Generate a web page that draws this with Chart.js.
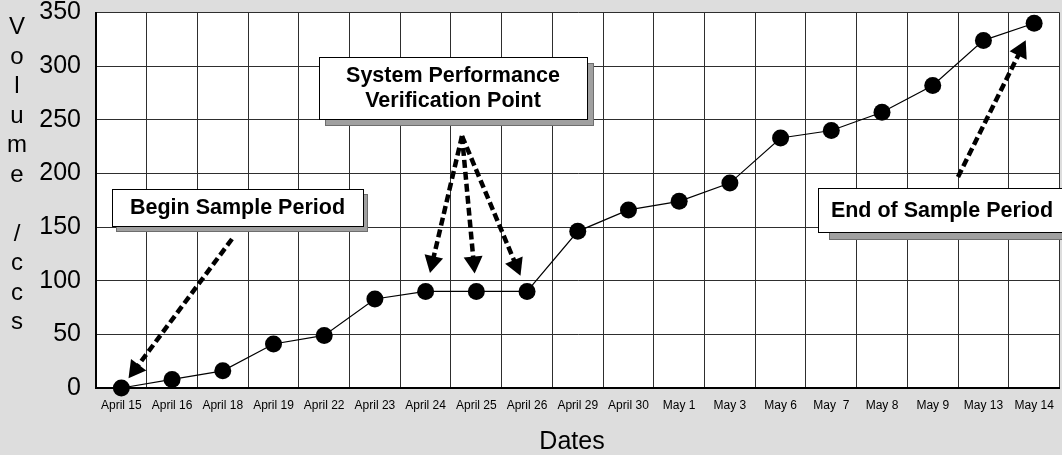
<!DOCTYPE html>
<html>
<head>
<meta charset="utf-8">
<script src="https://cdn.jsdelivr.net/npm/chart.js@4/dist/chart.umd.min.js"></script>
<style>
  html, body { margin: 0; padding: 0; overflow: hidden; background: #dddddd; }
  #wrap { width: 1068px; height: 455px; }
</style>
</head>
<body>
<div id="wrap"><canvas id="volChart"></canvas></div>
<script>
// Data
const dates = ['April 15', 'April 16', 'April 18', 'April 19', 'April 22', 'April 23', 'April 24',
    'April 25', 'April 26', 'April 29', 'April 30', 'May 1', 'May 3', 'May 6', 'May  7',
    'May 8', 'May 9', 'May 13', 'May 14'];
const volumes = [0, 8, 16, 41, 49, 83, 90, 90, 90, 146, 166, 174, 191, 233, 240, 257, 282, 324, 340];
const yTicks = [0, 50, 100, 150, 200, 250, 300, 350];
const yTitleLines = ['V', 'o', 'l', 'u', 'm', 'e', '', '/', 'c', 'c', 's'];
const xTitle = 'Dates';

// Call-out boxes and the points their arrows aim at
const callouts = [
    { lines: ['Begin Sample Period'], box: [112, 189, 363, 226], shadow: [4, 5],
      arrows: [{ from: [232, 239], to: 0, gap: 12 }] },
    { lines: ['System Performance', 'Verification Point'], box: [319, 57, 587, 119], shadow: [6, 6],
      arrows: [{ from: [462, 136], to: 6, gap: 19 }, { from: [462, 136], to: 7, gap: 18 },
               { from: [462, 136], to: 8, gap: 17 }] },
    { lines: ['End of Sample Period'], box: [818, 188, 1066, 232], shadow: [11, 7],
      arrows: [{ from: [958, 177], to: 18, gap: 19 }] }
];

const FONT = 'Arial, "Liberation Sans", sans-serif';

function drawArrow(ctx, x0, y0, x1, y1) {
    const ang = Math.atan2(y1 - y0, x1 - x0);
    const headLen = 17, headHalf = 9.5;
    const bx = x1 - Math.cos(ang) * headLen, by = y1 - Math.sin(ang) * headLen;
    ctx.save();
    ctx.strokeStyle = '#000';
    ctx.lineWidth = 4.5;
    ctx.setLineDash([8, 4]);
    ctx.beginPath();
    ctx.moveTo(x0, y0);
    ctx.lineTo(bx + Math.cos(ang) * 2, by + Math.sin(ang) * 2);
    ctx.stroke();
    ctx.setLineDash([]);
    ctx.fillStyle = '#000';
    ctx.beginPath();
    ctx.moveTo(x1, y1);
    ctx.lineTo(bx + Math.sin(ang) * headHalf, by - Math.cos(ang) * headHalf);
    ctx.lineTo(bx - Math.sin(ang) * headHalf, by + Math.cos(ang) * headHalf);
    ctx.closePath();
    ctx.fill();
    ctx.restore();
}

const backdrop = {
    id: 'backdrop',
    beforeDraw(chart) {
        const { ctx, chartArea: a } = chart;
        ctx.save();
        ctx.fillStyle = '#dddddd';
        ctx.fillRect(0, 0, chart.width, chart.height);
        ctx.fillStyle = '#ffffff';
        ctx.fillRect(a.left, a.top, a.right - a.left, a.bottom - a.top);
        ctx.restore();
    }
};

const extras = {
    id: 'extras',
    afterDraw(chart) {
        const ctx = chart.ctx;
        const pts = chart.getDatasetMeta(0).data;
        ctx.save();

        // axis titles
        ctx.fillStyle = '#000';
        ctx.font = '24px ' + FONT;
        ctx.textAlign = 'center';
        ctx.textBaseline = 'alphabetic';
        yTitleLines.forEach(function(ch, i) {
            ctx.fillText(ch, 17, 34 + i * 29.5);
        });
        ctx.font = '25px ' + FONT;
        ctx.textBaseline = 'middle';
        ctx.fillText(xTitle, 572, 442);

        // call-outs
        callouts.forEach(function(c) {
            const [x0, y0, x1, y1] = c.box;
            ctx.fillStyle = '#a0a0a0';
            ctx.strokeStyle = '#6e6e6e';
            ctx.lineWidth = 1;
            ctx.fillRect(x0 + c.shadow[0], y0 + c.shadow[1], x1 - x0, y1 - y0);
            ctx.strokeRect(x0 + c.shadow[0] + 0.5, y0 + c.shadow[1] + 0.5, x1 - x0, y1 - y0);
            ctx.fillStyle = '#fff';
            ctx.strokeStyle = '#000';
            ctx.fillRect(x0, y0, x1 - x0, y1 - y0);
            ctx.strokeRect(x0 + 0.5, y0 + 0.5, x1 - x0, y1 - y0);
            ctx.fillStyle = '#000';
            ctx.font = 'bold 21.5px ' + FONT;
            ctx.textAlign = 'center';
            ctx.textBaseline = 'middle';
            const cx = (x0 + x1) / 2, cy = (y0 + y1) / 2 + 1;
            const lh = 25;
            c.lines.forEach(function(t, i) {
                ctx.fillText(t, cx, cy + (i - (c.lines.length - 1) / 2) * lh);
            });
            c.arrows.forEach(function(ar) {
                const p = pts[ar.to];
                const dx = p.x - ar.from[0], dy = p.y - ar.from[1];
                const len = Math.sqrt(dx * dx + dy * dy);
                const tx = p.x - dx / len * ar.gap, ty = p.y - dy / len * ar.gap;
                drawArrow(ctx, ar.from[0], ar.from[1], tx, ty);
            });
        });
        ctx.restore();
    }
};

var ctxVol = document.getElementById('volChart').getContext('2d');
var volChart = new Chart(ctxVol, {
    type: 'line',
    data: {
        labels: dates,
        datasets: [{
            data: volumes,
            borderColor: '#000',
            borderWidth: 1.2,
            pointRadius: 8.5,
            pointBackgroundColor: '#000',
            pointBorderWidth: 0,
            tension: 0,
            clip: false
        }]
    },
    options: {
        responsive: true,
        maintainAspectRatio: false,
        animation: false,
        layout: { padding: { top: 12.5, right: 3, left: 0, bottom: 0 } },
        plugins: { legend: { display: false }, tooltip: { enabled: false } },
        scales: {
            x: {
                offset: true,
                grid: { offset: true, color: '#2e2e2e', lineWidth: 1, drawTicks: false },
                border: { color: '#000', width: 2 },
                ticks: { color: '#000', font: { size: 12, family: FONT }, padding: 10,
                         autoSkip: false, maxRotation: 0 },
                afterFit: function(s) { s.height = 67; s.paddingLeft = 0; s.paddingRight = 0; }
            },
            y: {
                min: 0,
                max: 350,
                afterBuildTicks: function(s) { s.ticks = yTicks.map(function(v) { return { value: v }; }); },
                grid: { color: '#2e2e2e', lineWidth: 1, drawTicks: false },
                border: { color: '#000', width: 2 },
                ticks: { color: '#000', font: { size: 25, family: FONT }, padding: 15 },
                afterFit: function(s) { s.width = 96; s.paddingTop = 0; s.paddingBottom = 0; }
            }
        }
    },
    plugins: [backdrop, extras]
});
</script>
</body>
</html>
